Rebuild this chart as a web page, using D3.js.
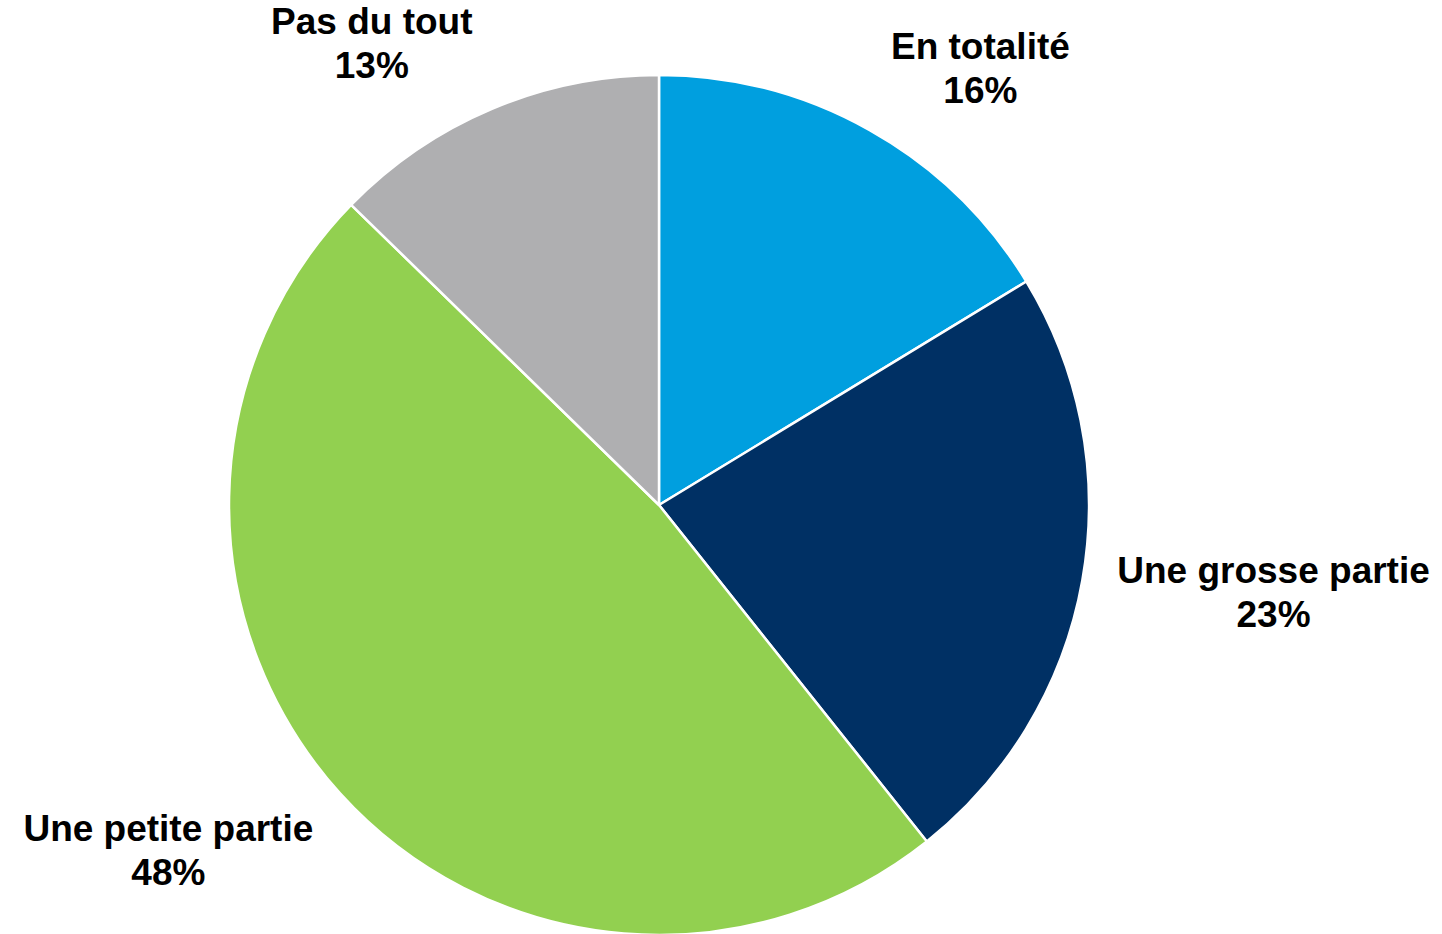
<!DOCTYPE html>
<html>
<head>
    <meta charset='utf-8'>
    <script src='https://d3js.org/d3.v7.min.js'></script>
    <title>Pie</title>
</head>
<body>
<style>
    body {
        margin: 0;
        background: #fff;
        font-family: "Liberation Sans", Arial, Helvetica, sans-serif;
    }
    .lbl {
        font-weight: bold;
        font-size: 37px;
        fill: #000;
    }
</style>
<div id='chart'></div>
<script>

    // slices, clockwise from 12 o'clock
    var categories = ['En totalité', 'Une grosse partie', 'Une petite partie', 'Pas du tout'];
    var values = [16.3, 23.0, 48.0, 12.7];
    var colors = ['#009FDF', '#003064', '#92D050', '#AFAFB1'];

    // label placement: small angle nudge (deg) like excel does
    var labelNudge = [7, -2, 7, -9];

    const W = 1442, H = 934;
    const cx = 659, cy = 505, radius = 430;
    const gap = 31, lineH = 44, fontSize = 37;
    const capH = 0.716 * fontSize;

    var svg = d3.select('#chart').append('svg')
        .attr('width', W)
        .attr('height', H);

    var g = svg.append('g')
        .attr('transform', 'translate(' + cx + ',' + cy + ')');

    var pie = d3.pie().sort(null).value(d => d.v);
    var arc = d3.arc().innerRadius(0).outerRadius(radius);

    var data = categories.map((c, i) => ({ name: c, v: values[i], color: colors[i], i: i }));
    var arcs = pie(data);

    g.selectAll('path.slice')
        .data(arcs)
        .enter().append('path')
        .attr('class', 'slice')
        .attr('d', arc)
        .attr('fill', d => d.data.color)
        .attr('stroke', '#fff')
        .attr('stroke-width', 2.5)
        .attr('stroke-linejoin', 'round');

    var fmt = d3.format('.0f');

    var labels = svg.append('g');
    arcs.forEach(function(d) {
        var t = labels.append('text').attr('class', 'lbl').attr('text-anchor', 'middle');
        var l1 = t.append('tspan').text(d.data.name);
        var l2 = t.append('tspan').text(fmt(d.data.v) + '%');
        var w = Math.max(l1.node().getComputedTextLength(), l2.node().getComputedTextLength());
        // visible block: cap of first line down to baseline of second
        var h = lineH + capH;

        var a = (d.startAngle + d.endAngle) / 2 + labelNudge[d.data.i] * Math.PI / 180;
        var s = Math.sin(a), c = Math.cos(a);
        var dist = radius + gap + Math.abs(s) * w / 2 + Math.abs(c) * h / 2;
        var x = cx + dist * s;
        var y = cy - dist * c;

        var b1 = y - h / 2 + capH;
        l1.attr('x', x).attr('y', b1);
        l2.attr('x', x).attr('y', b1 + lineH);
    });

</script>
</body>
</html>
